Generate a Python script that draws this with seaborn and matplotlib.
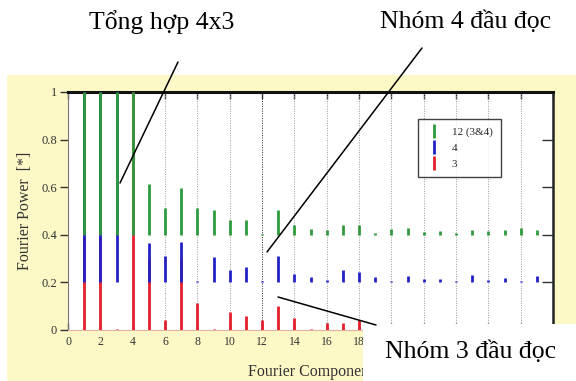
import numpy as np
import pandas as pd
import seaborn as sns
import matplotlib
matplotlib.use("Agg")
import matplotlib.pyplot as plt
from matplotlib.patches import Rectangle
from matplotlib.lines import Line2D

# ---- data ----
harmonics = list(range(1, 30))
power_3 = [1.0, 1.0, 0.005, 1.0, 0.30, 0.04, 0.30, 0.115, 0.005, 0.077,
           0.059, 0.042, 0.102, 0.049, 0.005, 0.028, 0.030, 0.040, 0.010, 0.010,
           0.010, 0.010, 0.010, 0.010, 0.010, 0.010, 0.010, 0.010, 0.010]
power_4 = [1.0, 1.0, 1.0, 0.0, 0.166, 0.112, 0.171, 0.005, 0.108, 0.052,
           0.063, 0.005, 0.111, 0.034, 0.024, 0.008, 0.052, 0.042, 0.021, 0.007,
           0.027, 0.015, 0.015, 0.007, 0.031, 0.010, 0.017, 0.007, 0.027]
power_12 = [1.0, 1.0, 1.0, 1.0, 0.213, 0.114, 0.195, 0.111, 0.104, 0.062,
            0.062, 0.005, 0.104, 0.041, 0.024, 0.020, 0.041, 0.040, 0.008, 0.024,
            0.027, 0.010, 0.017, 0.006, 0.020, 0.015, 0.020, 0.027, 0.020]
series_names = ["3", "4", "12 (3&4)"]
series_offsets = [0.0, 0.2, 0.4]
series_colors = ["#e3202c", "#2222c4", "#2f9a3c"]
x_ticks = [0, 2, 4, 6, 8, 10, 12, 14, 16, 18, 20, 22, 24, 26, 28, 30]
x_tick_labels = ["0", "2", "4", "6", "8", "10", "12", "14", "16", "18",
                 "", "", "", "", "", ""]  # the rest are hidden behind the white box
y_ticks = [0, 0.2, 0.4, 0.6, 0.8, 1]
y_tick_labels = ["0", "0.2", "0.4", "0.6", "0.8", "1"]

df = pd.DataFrame({
    "k": harmonics * 3,
    "power": power_3 + power_4 + power_12,
    "series": [series_names[0]] * 29 + [series_names[1]] * 29 + [series_names[2]] * 29,
})

sns.set_theme(style="white")
plt.rcParams["font.family"] = ["Liberation Serif", "DejaVu Serif"]

W, H = 576, 381
fig = plt.figure(figsize=(W / 100, H / 100), dpi=100)
fig.patch.set_facecolor("white")

def fx(px):
    return px / W

def fy(py):
    return 1 - py / H

# yellow slide background
fig.add_artist(Rectangle((fx(7), 0), 1 - fx(7), fy(75), transform=fig.transFigure,
                         facecolor="#fdf9c6", edgecolor="none", zorder=-5))

ax = fig.add_axes([fx(68), fy(330), fx(553) - fx(68), fy(92) - fy(330)])
ax.set_facecolor("white")

palette = dict(zip(series_names, series_colors))
for name, off in zip(series_names, series_offsets):
    sub = df[df["series"] == name]
    top = np.minimum(off + sub["power"].values, 1.0)
    ax.vlines(sub["k"].values, off, top, colors=palette[name], linewidth=2.0,
              zorder=3 + off * 10)

ax.set_xlim(0, 30)
ax.set_ylim(0, 1)
for xv in x_ticks[1:-1]:
    ax.axvline(xv, color="#222222" if xv == 12 else "#9a9a9a",
               linestyle=(0, (1, 1.5)), linewidth=0.7, zorder=1)

ax.set_xticks(x_ticks)
ax.set_xticklabels(x_tick_labels, fontsize=8.5, color="#333333")
ax.set_yticks(y_ticks)
ax.set_yticklabels(y_tick_labels, fontsize=9, color="#333333")
ax.tick_params(axis="y", left=True, right=True, direction="out", length=6, width=1,
               color="#333333", pad=2)
ax.tick_params(axis="x", bottom=True, top=True, direction="in", length=5, width=1,
               color="#333333", pad=4)
ax.yaxis.set_ticks_position("both")
for t in ax.yaxis.get_major_ticks():
    t.tick2line.set_marker(matplotlib.markers.TICKLEFT)
    t.tick2line.set_markersize(8)

ax.set_ylabel("Fourier Power  [*]", fontsize=11.5, labelpad=6, color="#333333")
ax.set_xlabel("Fourier Component", fontsize=11.5, labelpad=12, color="#333333")

for side, lw, col in [("top", 2.2, "#111111"), ("right", 1.8, "#222222"),
                      ("left", 0.8, "#777777"), ("bottom", 0.8, "#e8b0a0")]:
    ax.spines[side].set_linewidth(lw)
    ax.spines[side].set_color(col)
    ax.spines[side].set_visible(True)

handles = [Line2D([], [], color=palette[n], marker="|", linestyle="None",
                  markersize=10, markeredgewidth=2) for n in series_names[::-1]]
leg = ax.legend(handles, series_names[::-1], loc="upper left",
                bbox_to_anchor=((418 - 68) / 485, 1 - (119 - 92) / 238),
                borderaxespad=0, frameon=True, fancybox=False, fontsize=8,
                handlelength=1.3, handletextpad=1.0, borderpad=0.75,
                labelspacing=0.55)
leg.get_frame().set_edgecolor("#111111")
leg.get_frame().set_linewidth(1.0)
leg.set_zorder(6)

# white box covering the lower right
fig.add_artist(Rectangle((fx(363), 0), 1 - fx(363), fy(324), transform=fig.transFigure,
                         facecolor="white", edgecolor="none", zorder=5))

# annotation lines
for (x1, y1), (x2, y2) in [((178, 62), (120, 183)), ((422, 48), (267, 252)),
                           ((278, 297), (376, 325))]:
    fig.add_artist(Line2D([fx(x1), fx(x2)], [fy(y1), fy(y2)], transform=fig.transFigure,
                          color="black", linewidth=1.1, zorder=7))

for txt, (cx, cy) in [("Tổng hợp 4x3", (162, 22)), ("Nhóm 4 đầu đọc", (466, 22)),
                      ("Nhóm 3 đầu đọc", (471, 352))]:
    fig.text(fx(cx), fy(cy), txt, ha="center", va="center", fontsize=18.5,
             color="black", zorder=8)

fig.savefig("out.png", dpi=100)
